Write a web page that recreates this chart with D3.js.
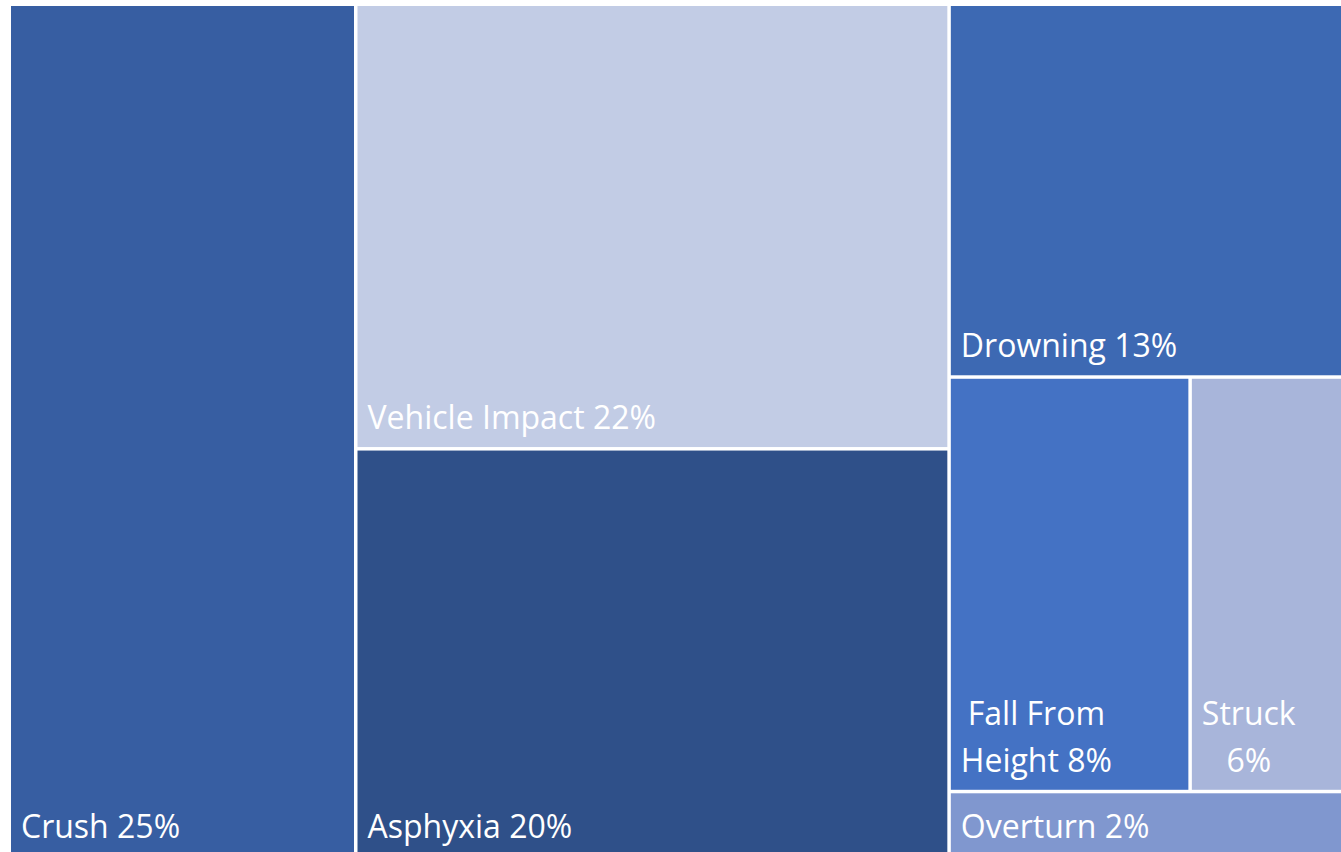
<!DOCTYPE html>
<html>
<head>
<meta charset="utf-8">
<script src="https://cdn.jsdelivr.net/npm/d3@7"></script>
<style>
  html, body { margin: 0; padding: 0; background: #fff; overflow: hidden; }
  .canvas { width: 1341px; height: 852px; }
  text.lbl { fill: #fff; font-family: "Open Sans", sans-serif; font-size: 32px; }
</style>
</head>
<body>
<div class="canvas"></div>
<script>
// categories, values (share of total), labels shown, fill colours
var names   = ['Crush', 'Vehicle Impact', 'Asphyxia', 'Drowning', 'Fall From Height', 'Struck', 'Overturn'];
var values  = [25.9, 23.1, 21.25, 12.95, 8.75, 5.65, 2.3];
var pcts    = ['25%', '22%', '20%', '13%', '8%', '6%', '2%'];
var colours = ['#375ea2', '#c2cce5', '#2f5089', '#3d69b3', '#4472c4', '#a8b5da', '#8097cf'];

var width = 1341, height = 852;

var svg = d3.select('.canvas').append('svg')
	.attr('width', width).attr('height', height);

function leaf(i) { return {name: names[i], value: values[i], pct: pcts[i], colour: colours[i]}; }

// columns -> rows -> cells, laid out with slice/dice
var tree = {children: [
	{children: [leaf(0)]},
	{children: [leaf(1), leaf(2)]},
	{children: [leaf(3), {children: [leaf(4), leaf(5)]}, leaf(6)]}
]};

var root = d3.hierarchy(tree).sum(function(d) { return d.value || 0; });

d3.treemap()
	.tile(d3.treemapSliceDice)
	.size([1344 - 11, 856 - 6])
	.paddingInner(3.5)
	.round(false)(root);

var grp = svg.append('g').attr('transform', 'translate(11,6)');

var cells = grp.selectAll('g.cell')
	.data(root.leaves())
	.enter()
	.append('g')
	.classed('cell', true);

cells.append('rect')
	.attr('x', function(d) { return d.x0; })
	.attr('y', function(d) { return d.y0; })
	.attr('width', function(d) { return d.x1 - d.x0; })
	.attr('height', function(d) { return d.y1 - d.y0; })
	.attr('fill', function(d) { return d.data.colour; });

// labels: wrapped to the tile, lines centred inside a left-aligned block, sitting at the bottom
var lineH = 47;
cells.each(function(d) {
	var g = d3.select(this);
	var words = (d.data.name + ' ' + d.data.pct).split(' ');
	var maxW = d.x1 - d.x0 - 20;
	var probe = g.append('text').classed('lbl', true);
	var lines = [], cur = '';
	words.forEach(function(w) {
		var test = cur ? cur + ' ' + w : w;
		probe.text(test);
		if (cur && probe.node().getComputedTextLength() > maxW) { lines.push(cur); cur = w; }
		else cur = test;
	});
	lines.push(cur);
	var widths = lines.map(function(l) { probe.text(l); return probe.node().getComputedTextLength(); });
	probe.remove();
	var blockW = d3.max(widths);
	lines.forEach(function(l, i) {
		g.append('text')
			.classed('lbl', true)
			.attr('x', d.x0 + 10 + (blockW - widths[i]) / 2)
			.attr('y', d.y1 - 18 - (lines.length - 1 - i) * lineH)
			.text(l);
	});
});
</script>
</body>
</html>
